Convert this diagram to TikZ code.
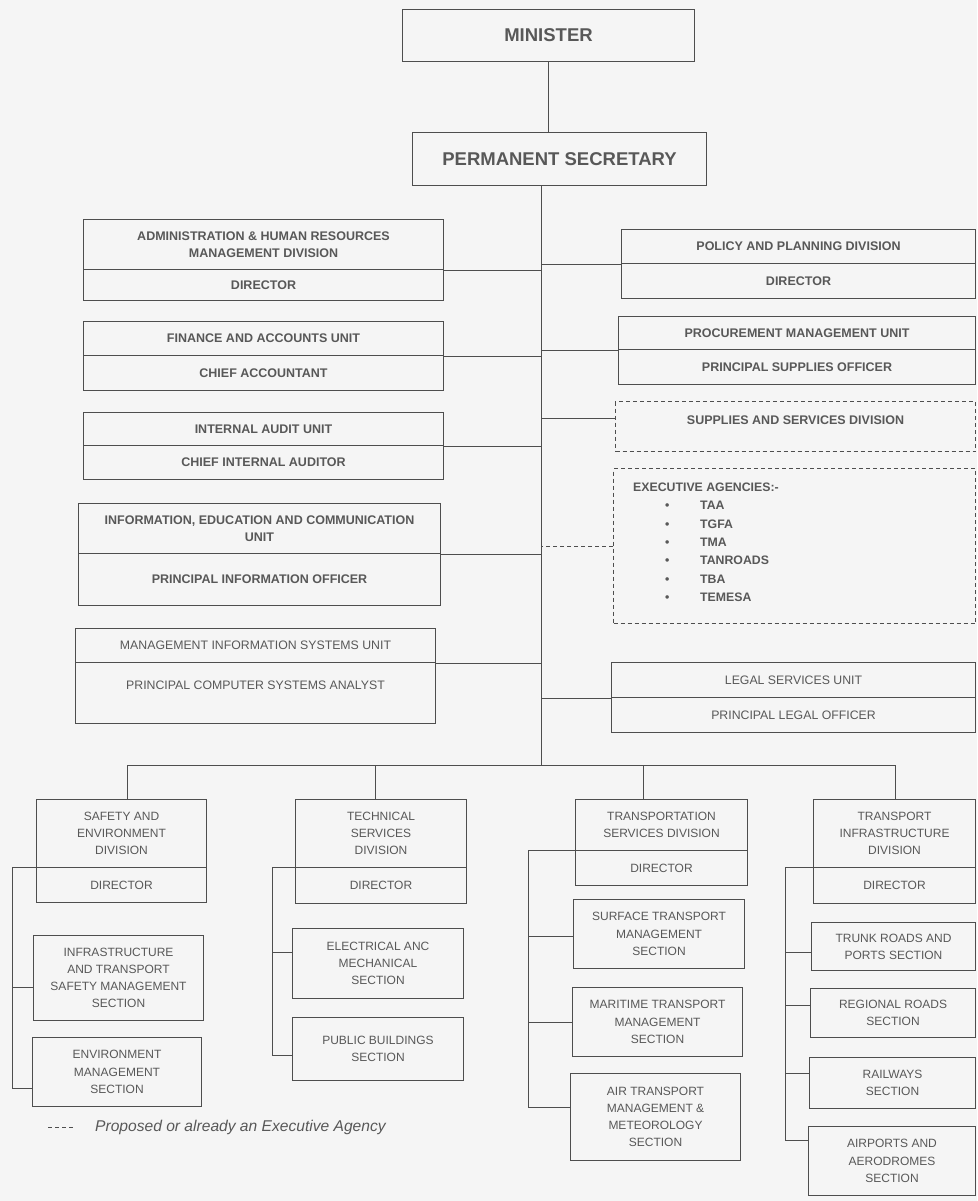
\documentclass[tikz,border=0pt]{standalone}
\usepackage{fontspec}
\setmainfont{Liberation Sans}
\definecolor{linec}{RGB}{78,78,78}
\definecolor{txtc}{RGB}{88,88,88}
\definecolor{bgc}{RGB}{245,245,245}
\tikzset{
  bx/.style={draw=linec, line width=1pt, inner sep=1pt, anchor=north west, align=center, text=txtc},
  tb/.style={bx, font=\fontsize{12.5}{17}\selectfont\bfseries},
  tr/.style={bx, font=\fontsize{12.3}{17}\selectfont},
  bb/.style={bx, font=\fontsize{12}{17.2}\selectfont},
  big/.style={bx, font=\fontsize{18.5}{21}\selectfont\bfseries},
  dbx/.style={bx, dash pattern=on 4pt off 3pt},
  ln/.style={draw=linec, line width=1pt},
  dln/.style={ln, dash pattern=on 4pt off 3pt},
  lbl/.style={text=txtc, inner sep=0pt},
}
\newcommand\BX[7]{\node[#6, minimum width={(#4)-(#2)}, minimum height={(#5)-(#3)}] (#1) at (#2,#3) {#7};}
\begin{document}
\begin{tikzpicture}[x=1pt,y=-1pt]
\fill[bgc] (0,0) rectangle (977,1201);
\useasboundingbox (0,0) rectangle (977,1201);

% top
\BX{mini}{402}{9}{694}{61}{big}{MINISTER}
\BX{ps}{412}{132}{706}{185}{big}{PERMANENT SECRETARY}
\draw[ln] (mini.south) -- (mini.south |- ps.north);
\coordinate (tk) at (541,765);
\draw[ln] (ps.south -| tk) -- (tk);

% left column
\BX{admh}{83}{219}{443}{269}{tb}{ADMINISTRATION \& HUMAN RESOURCES\\MANAGEMENT DIVISION}
\BX{admd}{83}{269}{443}{300}{tb}{DIRECTOR}
\draw[ln] (admh.south east) -- (admh.south east -| tk);

\BX{finh}{83}{321}{443}{355}{tb}{FINANCE AND ACCOUNTS UNIT}
\BX{find}{83}{355}{443}{390}{tb}{CHIEF ACCOUNTANT}
\draw[ln] (finh.south east) -- (finh.south east -| tk);

\BX{audh}{83}{412}{443}{445}{tb}{INTERNAL AUDIT UNIT}
\BX{audd}{83}{445}{443}{479}{tb}{CHIEF INTERNAL AUDITOR}
\draw[ln] (audh.south east) -- (audh.south east -| tk);

\BX{iech}{78}{503}{440}{553}{tb}{INFORMATION, EDUCATION AND COMMUNICATION\\UNIT}
\BX{iecd}{78}{553}{440}{605}{tb}{PRINCIPAL INFORMATION OFFICER}
\draw[ln] (iech.south east) -- (iech.south east -| tk);

\BX{mish}{75}{628}{435}{662}{tr}{MANAGEMENT INFORMATION SYSTEMS UNIT}
\BX{misd}{75}{662}{435}{723}{tr}{}
\node[lbl, font=\fontsize{12.3}{17}\selectfont] (misdt) at ([yshift=-23pt]misd.north) {PRINCIPAL COMPUTER SYSTEMS ANALYST};
\draw[ln] (mish.south east) -- (mish.south east -| tk);

% right column
\BX{polh}{621}{229}{975}{263}{tb}{POLICY AND PLANNING DIVISION}
\BX{pold}{621}{263}{975}{298}{tb}{DIRECTOR}
\draw[ln] (polh.south west) -- (polh.south west -| tk);

\BX{proh}{618}{316}{975}{349}{tb}{PROCUREMENT MANAGEMENT UNIT}
\BX{prod}{618}{349}{975}{384}{tb}{PRINCIPAL SUPPLIES OFFICER}
\draw[ln] (proh.south west) -- (proh.south west -| tk);

\BX{sup}{615}{401}{975}{451}{dbx}{}
\node[lbl, font=\fontsize{12.5}{17}\selectfont\bfseries] (supt) at ([yshift=-19pt]sup.north) {SUPPLIES AND SERVICES DIVISION};
\draw[ln] ([yshift=-17pt]sup.north west) -- ([yshift=-17pt]sup.north west -| tk);

\BX{exe}{613}{468}{975}{623}{dbx}{}
\node[lbl, anchor=north west, align=left, font=\fontsize{12.3}{18.4}\selectfont\bfseries] (exet) at ([xshift=20pt,yshift=-14.5pt]exe.north west)
 {EXECUTIVE AGENCIES:-\\
  \hspace*{32pt}\makebox[35pt][l]{\textbullet}TAA\\
  \hspace*{32pt}\makebox[35pt][l]{\textbullet}TGFA\\
  \hspace*{32pt}\makebox[35pt][l]{\textbullet}TMA\\
  \hspace*{32pt}\makebox[35pt][l]{\textbullet}TANROADS\\
  \hspace*{32pt}\makebox[35pt][l]{\textbullet}TBA\\
  \hspace*{32pt}\makebox[35pt][l]{\textbullet}TEMESA};
\draw[dln] (exe.west) -- (exe.west -| tk);

\BX{legh}{611}{662}{975}{697}{tr}{LEGAL SERVICES UNIT}
\BX{legd}{611}{697}{975}{732}{tr}{PRINCIPAL LEGAL OFFICER}
\draw[ln] (legh.south west) -- (legh.south west -| tk);

% bottom bar
\coordinate (d1) at (127,765);
\coordinate (d2) at (375,765);
\coordinate (d3) at (643,765);
\coordinate (d4) at (895,765);
\draw[ln] (d1) -- (d4);

% column 1
\BX{c1h}{36}{799}{206}{867}{bb}{SAFETY AND\\ENVIRONMENT\\DIVISION}
\BX{c1d}{36}{867}{206}{902}{bb}{DIRECTOR}
\BX{c1a}{33}{935}{203}{1020}{bb}{INFRASTRUCTURE\\AND TRANSPORT\\SAFETY MANAGEMENT\\SECTION}
\BX{c1b}{32}{1037}{201}{1106}{bb}{ENVIRONMENT\\MANAGEMENT\\SECTION}
\draw[ln] (d1) -- (d1 |- c1h.north);
\coordinate (b1) at (12,867);
\path ([yshift=-52pt]c1a.north west) coordinate (c1ac)
      ([yshift=-51pt]c1b.north west) coordinate (c1bc);
\draw[ln] (c1d.north west) -| (b1 |- c1bc) -- (c1bc);
\draw[ln] (b1 |- c1ac) -- (c1ac);

% column 2
\BX{c2h}{295}{799}{466}{867}{bb}{TECHNICAL\\SERVICES\\DIVISION}
\BX{c2d}{295}{867}{466}{903}{bb}{DIRECTOR}
\BX{c2a}{292}{928}{463}{998}{bb}{ELECTRICAL ANC\\MECHANICAL\\SECTION}
\BX{c2b}{292}{1017}{463}{1080}{bb}{PUBLIC BUILDINGS\\SECTION}
\draw[ln] (d2) -- (d2 |- c2h.north);
\coordinate (b2) at (272,867);
\path ([yshift=-24pt]c2a.north west) coordinate (c2ac)
      ([yshift=-38pt]c2b.north west) coordinate (c2bc);
\draw[ln] (c2d.north west) -| (b2 |- c2bc) -- (c2bc);
\draw[ln] (b2 |- c2ac) -- (c2ac);

% column 3
\BX{c3h}{575}{799}{747}{850}{bb}{TRANSPORTATION\\SERVICES DIVISION}
\BX{c3d}{575}{850}{747}{885}{bb}{DIRECTOR}
\BX{c3a}{573}{899}{744}{968}{bb}{SURFACE TRANSPORT\\MANAGEMENT\\SECTION}
\BX{c3b}{572}{987}{742}{1056}{bb}{MARITIME TRANSPORT\\MANAGEMENT\\SECTION}
\BX{c3c}{570}{1073}{740}{1160}{bb}{AIR TRANSPORT\\MANAGEMENT \&\\METEOROLOGY\\SECTION}
\draw[ln] (d3) -- (d3 |- c3h.north);
\coordinate (b3) at (528,850);
\path ([yshift=-37pt]c3a.north west) coordinate (c3ac)
      ([yshift=-35pt]c3b.north west) coordinate (c3bc)
      ([yshift=-34pt]c3c.north west) coordinate (c3cc);
\draw[ln] (c3d.north west) -| (b3 |- c3cc) -- (c3cc);
\draw[ln] (b3 |- c3ac) -- (c3ac);
\draw[ln] (b3 |- c3bc) -- (c3bc);

% column 4
\BX{c4h}{813}{799}{975}{867}{bb}{TRANSPORT\\INFRASTRUCTURE\\DIVISION}
\BX{c4d}{813}{867}{975}{903}{bb}{DIRECTOR}
\BX{c4a}{811}{922}{975}{970}{bb}{TRUNK ROADS AND\\PORTS SECTION}
\BX{c4b}{810}{988}{975}{1037}{bb}{REGIONAL ROADS\\SECTION}
\BX{c4c}{809}{1057}{975}{1108}{bb}{RAILWAYS\\SECTION}
\BX{c4e}{808}{1126}{975}{1195}{bb}{AIRPORTS AND\\AERODROMES\\SECTION}
\draw[ln] (d4) -- (d4 |- c4h.north);
\coordinate (b4) at (785,867);
\path ([yshift=-30pt]c4a.north west) coordinate (c4ac)
      ([yshift=-17pt]c4b.north west) coordinate (c4bc)
      ([yshift=-16pt]c4c.north west) coordinate (c4cc)
      ([yshift=-14pt]c4e.north west) coordinate (c4ec);
\draw[ln] (c4d.north west) -| (b4 |- c4ec) -- (c4ec);
\draw[ln] (b4 |- c4ac) -- (c4ac);
\draw[ln] (b4 |- c4bc) -- (c4bc);
\draw[ln] (b4 |- c4cc) -- (c4cc);

% legend
\coordinate (lgs) at (48,1127);
\coordinate (lge) at (73,1127);
\draw[dln] (lgs) -- (lge);
\node[lbl, anchor=west, font=\fontsize{15.6}{18}\selectfont\itshape] (lgt) at (95,1127) {Proposed or already an Executive Agency};
\end{tikzpicture}
\end{document}
